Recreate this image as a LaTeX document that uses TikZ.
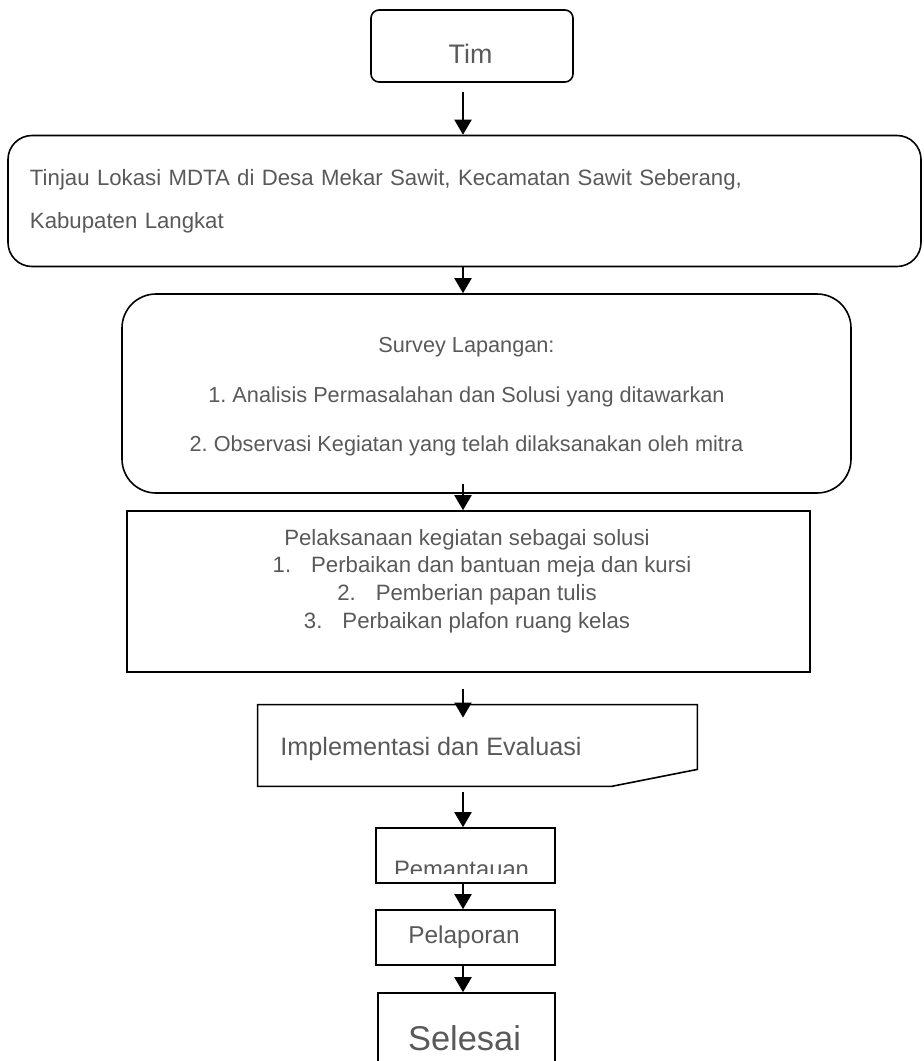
\documentclass[tikz,border=0pt]{standalone}
\usepackage{fontspec}
\setmainfont{Liberation Sans}
\usetikzlibrary{arrows.meta}
\definecolor{txtgray}{RGB}{89,89,89}
\frenchspacing
\tikzset{
  box/.style={draw=black, line width=0.8pt, inner sep=0pt},
  lbl/.style={text=txtgray, inner sep=0pt, font=\fontsize{12}{14}\selectfont},
  flow/.style={line width=1pt, -{Triangle[length=7.5pt,width=8.5pt]}},
}

\begin{document}
\begin{tikzpicture}[x=0.5pt, y=-0.5pt]
	%%%%% START %%%%%
	\useasboundingbox (0,0) rectangle (923,1061);
	\coordinate (ax) at (463,0);
	
	\node[box, rounded corners=4pt, minimum width=101pt, minimum height=36pt] (tim) at (472,46) {};
	\node[lbl, anchor=base, font=\fontsize{13.4}{16}\selectfont] (timtxt) at (470.5,63) {Tim};
	
	\node[box, rounded corners=12pt, minimum width=456.5pt, minimum height=65.5pt,
	      text width=434.5pt, align=left, text=txtgray, font=\fontsize{11.1}{21.5}\selectfont] (tinjau) at (464.5,201)
	      {Tinjau Lokasi MDTA di Desa Mekar Sawit, Kecamatan Sawit Seberang,\\Kabupaten Langkat};
	
	\node[box, rounded corners=17pt, minimum width=364.5pt, minimum height=99.5pt] (survey) at (486.5,393.5) {};
	\node[lbl, align=center, font=\fontsize{10.85}{24.8}\selectfont] (surveytxt) at (466.5,397)
	      {Survey Lapangan:\\1. Analisis Permasalahan dan Solusi yang ditawarkan\\2. Observasi Kegiatan yang telah dilaksanakan oleh mitra};
	
	\node[box, minimum width=341.5pt, minimum height=80.5pt] (pel) at (468.5,591.5) {};
	\node[lbl, align=center, font=\fontsize{11.1}{13.85}\selectfont] (peltxt) at (467,581)
	      {Pelaksanaan kegiatan sebagai solusi\\
	       \hspace*{15pt}1.\hspace{0.9em}Perbaikan dan bantuan meja dan kursi\\
	       2.\hspace{0.9em}Pemberian papan tulis\\
	       3.\hspace{0.9em}Perbaikan plafon ruang kelas};
	
	\node[minimum width=219.5pt, minimum height=40.5pt, inner sep=0pt] (impl) at (477.5,745.5) {};
	\draw[line width=0.8pt] (impl.north west) -- (impl.north east) -- ([yshift=8.5pt]impl.south east)
	      -- ([xshift=-43pt]impl.south east) -- (impl.south west) -- cycle;
	\node[lbl, anchor=base west, font=\fontsize{12.6}{15}\selectfont] (impltxt) at (280,755) {Implementasi dan Evaluasi};
	
	\node[box, minimum width=89.5pt, minimum height=27.5pt] (pem) at (465.5,855.5) {};
	\begin{scope}
		\clip (376,828) rectangle (555,873);
		\node[lbl, anchor=base, font=\fontsize{11.9}{14}\selectfont] (pemtxt) at (461.5,877) {Pemantauan};
	\end{scope}
	
	\node[box, minimum width=89.5pt, minimum height=27.5pt] (pelap) at (465.5,937.5) {};
	\node[lbl, anchor=base, font=\fontsize{12.2}{14}\selectfont] (pelaptxt) at (464,943) {Pelaporan};
	
	\node[box, minimum width=88.5pt, minimum height=47pt] (sel) at (466.5,1040) {};
	\node[lbl, anchor=base, font=\fontsize{17.2}{20}\selectfont] (seltxt) at (464.5,1050) {Selesai};
	
	\draw[flow, shorten <=4.5pt] (tim.south -| ax) -- (tinjau.north -| ax);
	\draw[flow] (tinjau.south -| ax) -- (survey.north -| ax);
	\draw[flow, shorten <=-5pt] (survey.south -| ax) -- (pel.north -| ax);
	\draw[flow, shorten <=8pt, shorten >=-6.5pt] (pel.south -| ax) -- (impl.north -| ax);
	\draw[flow, shorten <=3pt] (impl.south -| ax) -- (pem.north -| ax);
	\draw[flow] (pem.south -| ax) -- (pelap.north -| ax);
	\draw[flow] (pelap.south -| ax) -- (sel.north -| ax);
	%%%%% END %%%%%
\end{tikzpicture}
\end{document}
